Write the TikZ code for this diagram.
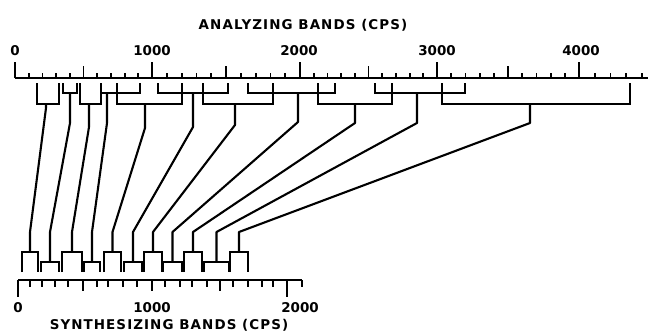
\documentclass[tikz,border=0pt]{standalone}
\usepackage{fontspec}
\newfontfamily\ttlfont[LetterSpace=8]{DejaVu Sans}
\newfontfamily\nmbfont{DejaVu Sans}
\begin{document}
\begin{tikzpicture}[x=1bp,y=-1bp,
  axisline/.style={line width=2.4bp},
  tickline/.style={line width=1.8bp},
  bandline/.style={line width=2.2bp, line join=miter},
  link/.style={line width=2.1bp, line join=round},
  numlabel/.style={inner sep=0pt, font=\nmbfont\bfseries\fontsize{13.5}{14}\selectfont},
  titlelabel/.style={inner sep=0pt, font=\ttlfont\bfseries\fontsize{13.5}{14}\selectfont}]
\useasboundingbox (0,0) rectangle (655,335);
\fill[white] (0,0) rectangle (655,335);

% ---------- top axis (analyzing bands) ----------
\coordinate (tl) at (15,78);
\coordinate (tr) at (648,78);
\draw[axisline] (tl) -- (tr);
\def\X{{15,152,300,437,579}}
\foreach \k in {0,...,3}{
  \foreach \j in {0,...,9}{
    \pgfmathsetmacro\xa{\X[\k]}
    \pgfmathsetmacro\xb{\X[\k+1]}
    \pgfmathsetmacro\xx{\xa+(\xb-\xa)*\j/10}
    \pgfmathsetmacro\hh{ifthenelse(\j==0,16,ifthenelse(\j==5,12,5))}
    \draw[tickline] (\xx,78) -- ++(0,-\hh);
  }
}
\foreach \j in {0,...,4}{
  \pgfmathsetmacro\xx{579+15.75*\j}
  \pgfmathsetmacro\hh{ifthenelse(\j==0,16,5)}
  \draw[tickline] (\xx,78) -- ++(0,-\hh);
}
\node[titlelabel] (atitle) at (303,25) {ANALYZING BANDS (CPS)};
\node[numlabel] (a0) at (15,51) {0};
\node[numlabel] (a1) at (152,51) {1000};
\node[numlabel] (a2) at (299,51) {2000};
\node[numlabel] (a3) at (437,51) {3000};
\node[numlabel] (a4) at (581,51) {4000};

% ---------- analyzing band brackets ----------
\foreach \i/\l/\r/\lev/\sx/\sb in {
  1/37/59/104/46/108,
  2/63/77/93/70/123,
  3/80/101/104/89/127,
  4/101/140/93/107/123,
  5/117/182/104/145/128,
  6/158/228/93/193/127,
  7/203/273/104/235/125,
  8/248/335/93/298/122,
  9/318/392/104/355/123,
  10/375/465/93/417/123,
  11/442/630/104/530/123}{
  \draw[bandline] (\l,83) -- (\l,\lev) -- (\r,\lev) -- (\r,83);
  \coordinate (top\i) at (\sx,\lev);
  \coordinate (kneeT\i) at (\sx,\sb);
}

% ---------- synthesizing band boxes ----------
\foreach \i/\l/\r/\t in {
  1/22/38/252,
  2/41/59/262,
  3/62/82/252,
  4/84/100/262,
  5/104/121/252,
  6/124/142/262,
  7/144/162/252,
  8/163/182/262,
  9/184/202/252,
  10/204/229/262,
  11/230/248/252}{
  \draw[bandline] (\l,272) -- (\l,\t) -- (\r,\t) -- (\r,272);
  \coordinate (bot\i) at ({(\l+\r)/2},\t);
  \coordinate (kneeB\i) at ({(\l+\r)/2},232);
}

% ---------- connectors ----------
\foreach \i in {1,...,11}{
  \draw[link] (top\i) -- (kneeT\i) -- (kneeB\i) -- (bot\i);
}

% ---------- bottom axis ----------
\coordinate (bl) at (18,280);
\coordinate (br) at (302,280);
\draw[axisline] (bl) -- (br);
\foreach \xx [count=\n from 0] in {18,30,42,55,68,83,97,108,123,137,152,165,180,192,207,220,233,248,262,273,287,302}{
  \pgfmathsetmacro\hh{ifthenelse(\n==0 || \n==20,17,ifthenelse(\n==5 || \n==10 || \n==15,11,7))}
  \draw[tickline] (\xx,280) -- ++(0,\hh);
}
\node[numlabel] (s0) at (18,308) {0};
\node[numlabel] (s1) at (152,308) {1000};
\node[numlabel] (s2) at (300,308) {2000};
\node[titlelabel] (stitle) at (169,325) {SYNTHESIZING BANDS (CPS)};
\end{tikzpicture}
\end{document}
